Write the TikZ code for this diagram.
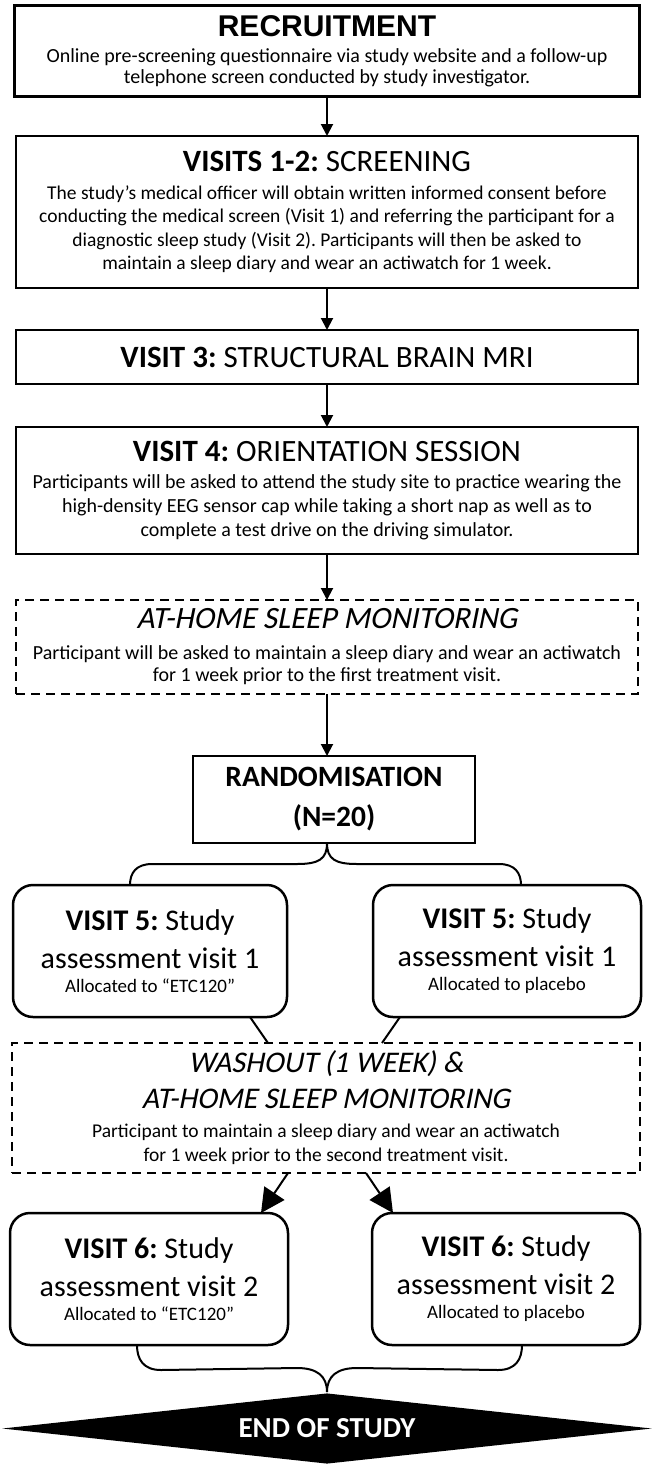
\documentclass[tikz,border=0pt]{standalone}
\usepackage{fontspec}
\setmainfont{Carlito}
\newfontfamily\arialfont{Liberation Sans}
\newfontfamily\slfont[FakeSlant=0.2]{Carlito}
\usetikzlibrary{arrows.meta,calc,positioning,shapes.geometric}
\frenchspacing

\newcommand{\hfont}{\fontsize{31}{36}\selectfont}
\newcommand{\bfont}{\fontsize{19.5}{23.5}\selectfont}
\newcommand{\sfont}{\fontsize{19}{22}\selectfont}

\begin{document}
\begin{tikzpicture}[
	x = 1pt, y = -1pt, % pixel units, y runs down
	> = {Triangle[width=12pt,length=12pt]}, % arrow head style
	line width = 2pt, % connector lines
	node distance = 40pt, % distance between boxes
	B/.style={rectangle, draw=black, line width=2.5pt, inner sep=0pt, outer sep=0pt, align=flush center, minimum width=622pt, text width=618pt, font=\bfont},
	D/.style={B, dash pattern=on 9pt off 6pt},                        %dashed box
	R/.style={B, rounded corners=20pt, minimum width=274pt, text width=268pt, minimum height=132pt, font={\fontsize{30}{38}\selectfont}},
	E/.style={diamond, aspect=9, fill=black, text=white, inner sep=0pt, minimum width=650pt, minimum height=71pt, font={\fontsize{29}{32}\selectfont\bfseries}},
	big/.style={-{Triangle[width=24pt,length=24pt]}},
	]

	\useasboundingbox (0,0) rectangle (653,1464);

	% Main column
	% Nodes and their relative positions
	\node[B, line width=3pt, minimum width=625pt, minimum height=90pt, font={\fontsize{20}{21}\selectfont}] (rec) at (327,51)
		{{\arialfont\bfseries\fontsize{30}{32}\selectfont RECRUITMENT}\\[5pt]
		Online pre-screening questionnaire via study website and a follow-up\\
		telephone screen conducted by study investigator.};
	\node[B, minimum height=152pt] (scr) [below = of rec]
		{{\hfont\textbf{VISITS 1-2:} SCREENING}\\[4pt]
		The study’s medical officer will obtain written informed consent before\\
		conducting the medical screen (Visit 1) and referring the participant for a\\
		diagnostic sleep study (Visit 2). Participants will then be asked to\\
		maintain a sleep diary and wear an actiwatch for 1 week.};
	\node[B, minimum height=54pt, font=\hfont] (mri) [below = 42pt of scr]
		{\textbf{VISIT 3:} STRUCTURAL BRAIN MRI};
	\node[B, minimum height=127pt, font={\fontsize{20}{24}\selectfont}] (ori) [below = 43pt of mri]
		{{\hfont\textbf{VISIT 4:} ORIENTATION SESSION}\\[3pt]
		Participants will be asked to attend the study site to practice wearing the\\
		high-density EEG sensor cap while taking a short nap as well as to\\
		complete a test drive on the driving simulator.};
	\node[D, minimum height=94pt, font={\fontsize{20}{22.5}\selectfont}] (home) [below = 46pt of ori]
		{{\hfont\slfont AT-HOME SLEEP MONITORING}\\[8pt]
		Participant will be asked to maintain a sleep diary and wear an actiwatch\\
		for 1 week prior to the first treatment visit.};
	\node[B, minimum width=282pt, text width=270pt, minimum height=87pt, font={\fontsize{29.5}{40}\selectfont\bfseries}] (rand) [below = 62pt of home, xshift=7pt]
		{RANDOMISATION\\ (N=20)};

	% Two arms of the crossover
	\node[R] (v5a) [below = 42pt of rand, xshift=-184pt]
		{\textbf{VISIT 5:} Study\\ assessment visit 1\\[-14pt] {\sfont Allocated to “ETC120”}};
	\node[R, minimum width=268pt] (v5b) [below = 42pt of rand, xshift=173pt]
		{\textbf{VISIT 5:} Study\\ assessment visit 1\\[-14pt] {\sfont Allocated to placebo}};
	\node[D, minimum width=628pt, minimum height=130pt, font={\fontsize{19.5}{24}\selectfont}] (wash) [below = 200pt of rand, xshift=-8pt]
		{{\fontsize{30}{36}\selectfont\slfont WASHOUT (1 WEEK) \&\\[12pt] AT-HOME SLEEP MONITORING}\\[5pt]
		Participant to maintain a sleep diary and wear an actiwatch\\
		for 1 week prior to the second treatment visit.};
	\node[R, minimum width=278pt] (v6a) [below = 40pt of wash, xshift=-177pt]
		{\textbf{VISIT 6:} Study\\ assessment visit 2\\[-14pt] {\sfont Allocated to “ETC120”}};
	\node[R, minimum width=268pt] (v6b) [below = 40pt of wash, xshift=180pt]
		{\textbf{VISIT 6:} Study\\ assessment visit 2\\[-14pt] {\sfont Allocated to placebo}};
	\node[E] (end) [below = 219pt of wash, xshift=1pt] {END OF STUDY};

	% Paths connecting nodes
	\draw[->] (rec) -- (scr);
	\draw[->] (scr) -- (mri);
	\draw[->] (mri) -- (ori);
	\draw[->] (ori) -- (home);
	\draw[->] (home) -- (home |- rand.north);

	% brace from randomisation to both visit 5 boxes
	\coordinate (top) at (home |- rand.south);
	\coordinate (tl) at ($(v5a.north)+(-20,0)$);
	\coordinate (tr) at ($(v5b.north)+(14,0)$);
	\draw (top) .. controls +(0,16) and +(22,0) .. ($(top)+(-30,21)$)
		-- ($(tl)+(22,-21)$) .. controls +(-16,0) and +(0,-12) .. (tl);
	\draw (top) .. controls +(0,16) and +(-22,0) .. ($(top)+(30,21)$)
		-- ($(tr)+(-22,-21)$) .. controls +(16,0) and +(0,-12) .. (tr);

	\draw ($(v5a.south)+(100,0)$) -- ($(wash.north)+(-58,0)$);
	\draw ($(v5b.south)+(-107,0)$) -- ($(wash.north)+(56,0)$);
	\draw[big] ($(wash.south)+(-38,0)$) -- ($(v6a.north)+(112,0)$);
	\draw[big] ($(wash.south)+(40,0)$) -- ($(v6b.north)+(-113,0)$);

	% brace from both visit 6 boxes to the end
	\coordinate (bl) at ($(v6a.south)+(-12,0)$);
	\coordinate (br) at ($(v6b.south)+(16,0)$);
	\draw (bl) .. controls +(0,14) and +(-18,0) .. ($(bl)+(24,25)$)
		-- ($(end.north)+(-30,-24)$) .. controls +(20,0) and +(0,-16) .. (end.north);
	\draw (br) .. controls +(0,14) and +(18,0) .. ($(br)+(-24,25)$)
		-- ($(end.north)+(30,-24)$) .. controls +(-20,0) and +(0,-16) .. (end.north);

\end{tikzpicture}
\end{document}
